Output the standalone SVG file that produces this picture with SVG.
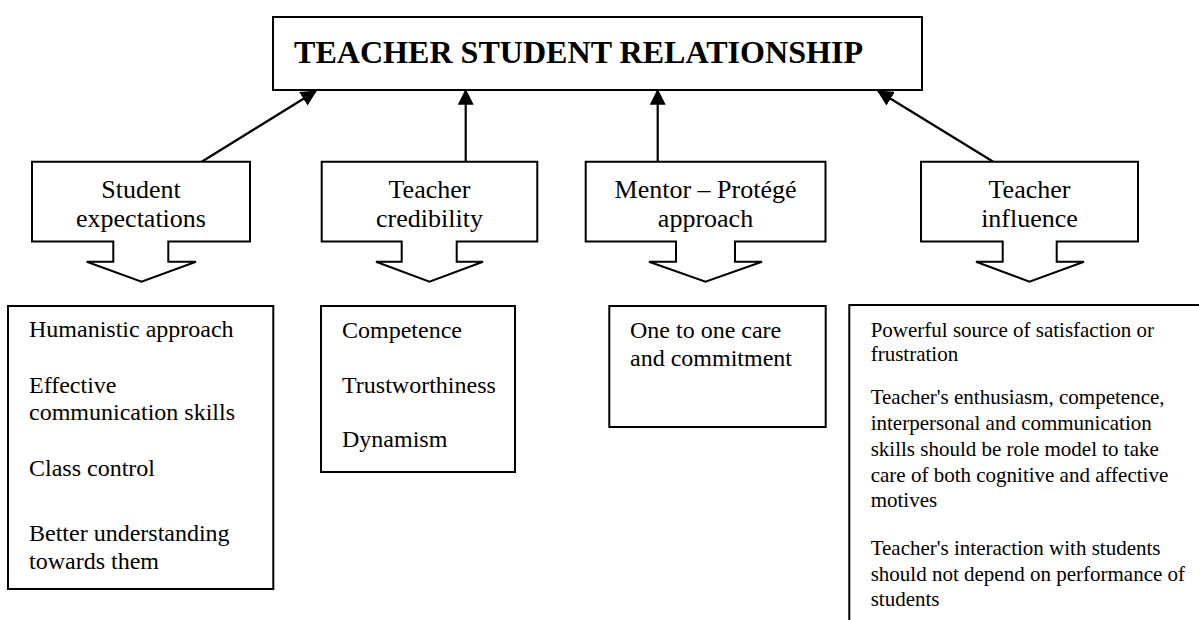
<svg xmlns="http://www.w3.org/2000/svg" width="1199" height="620" viewBox="0 0 1199 620">
<style>
.box{fill:#fff;stroke:#000;stroke-width:2}
.call{fill:#fff;stroke:#000;stroke-width:2;stroke-linejoin:miter}
.t{font-family:"Liberation Serif","Times New Roman",serif;fill:#000}
.hd{font-size:26px;text-anchor:middle}
.bd{font-size:24px}
.sm{font-size:21px}
.ttl{font-size:32px;font-weight:bold}
.conn{stroke:#000;stroke-width:2.2;fill:none}
</style>
<defs>
<marker id="ah" markerUnits="userSpaceOnUse" markerWidth="16" markerHeight="16" viewBox="0 0 14 14" refX="13" refY="7" orient="auto">
<path d="M0,0 L14,7 L0,14 Z" fill="#000"/>
</marker>
</defs>
<rect width="1199" height="620" fill="#fff"/>

<g id="title">
<rect class="box" x="273" y="17" width="649" height="73"/>
<text class="t ttl" x="294" y="63" textLength="569" lengthAdjust="spacingAndGlyphs">TEACHER STUDENT RELATIONSHIP</text>
</g>

<g id="connectors">
<line class="conn" x1="201.7" y1="161.7" x2="316" y2="91" marker-end="url(#ah)"/>
<line class="conn" x1="465.7" y1="161.7" x2="465.7" y2="90" marker-end="url(#ah)"/>
<line class="conn" x1="657.7" y1="161.7" x2="657.7" y2="90" marker-end="url(#ah)"/>
<line class="conn" x1="993.3" y1="161.7" x2="878" y2="91" marker-end="url(#ah)"/>
</g>

<g id="student-expectations">
<path class="call" d="M32,161.7 H250 V241.5 H168.3 V261.7 H196 L141.5,281.7 L86.7,261.7 H113.3 V241.5 H32 Z"/>
<text class="t hd" x="141" y="198">Student</text>
<text class="t hd" x="141" y="227">expectations</text>
</g>

<g id="teacher-credibility">
<path class="call" d="M321.7,161.7 H537.3 V241.5 H456.7 V261.7 H483 L429.5,281.7 L376,261.7 H401.7 V241.5 H321.7 Z"/>
<text class="t hd" x="429.5" y="198">Teacher</text>
<text class="t hd" x="429.5" y="227">credibility</text>
</g>

<g id="mentor-protege">
<path class="call" d="M585.7,161.7 H825.5 V241.5 H735 V261.7 H762 L705.5,281.7 L649,261.7 H676 V241.5 H585.7 Z"/>
<text class="t hd" x="705.5" y="198">Mentor – Protégé</text>
<text class="t hd" x="705.5" y="227">approach</text>
</g>

<g id="teacher-influence">
<path class="call" d="M921,161.7 H1138 V241.5 H1056.7 V261.7 H1084 L1029.5,281.7 L976,261.7 H1002.7 V241.5 H921 Z"/>
<text class="t hd" x="1029.5" y="198">Teacher</text>
<text class="t hd" x="1029.5" y="227">influence</text>
</g>

<g id="expectations-list">
<rect class="box" x="8" y="306" width="265.3" height="283"/>
<text class="t bd" x="29" y="337">Humanistic approach</text>
<text class="t bd" x="29" y="393">Effective</text>
<text class="t bd" x="29" y="420">communication skills</text>
<text class="t bd" x="29" y="476">Class control</text>
<text class="t bd" x="29" y="541">Better understanding</text>
<text class="t bd" x="29" y="569">towards them</text>
</g>

<g id="credibility-list">
<rect class="box" x="321" y="306" width="194" height="166"/>
<text class="t bd" x="342" y="338">Competence</text>
<text class="t bd" x="342" y="393">Trustworthiness</text>
<text class="t bd" x="342" y="447">Dynamism</text>
</g>

<g id="mentor-list">
<rect class="box" x="609.3" y="306" width="216.4" height="121"/>
<text class="t bd" x="630" y="338">One to one care</text>
<text class="t bd" x="630" y="366">and commitment</text>
</g>

<g id="influence-list">
<rect class="box" x="849.3" y="305" width="400" height="400"/>
<text class="t sm" x="870.7" y="337">Powerful source of satisfaction or</text>
<text class="t sm" x="870.7" y="361">frustration</text>
<text class="t sm" x="870.7" y="404">Teacher's enthusiasm, competence,</text>
<text class="t sm" x="870.7" y="430">interpersonal and communication</text>
<text class="t sm" x="870.7" y="456">skills should be role model to take</text>
<text class="t sm" x="870.7" y="482">care of both cognitive and affective</text>
<text class="t sm" x="870.7" y="507">motives</text>
<text class="t sm" x="870.7" y="555">Teacher's interaction with students</text>
<text class="t sm" x="870.7" y="581">should not depend on performance of</text>
<text class="t sm" x="870.7" y="606">students</text>
</g>
</svg>
